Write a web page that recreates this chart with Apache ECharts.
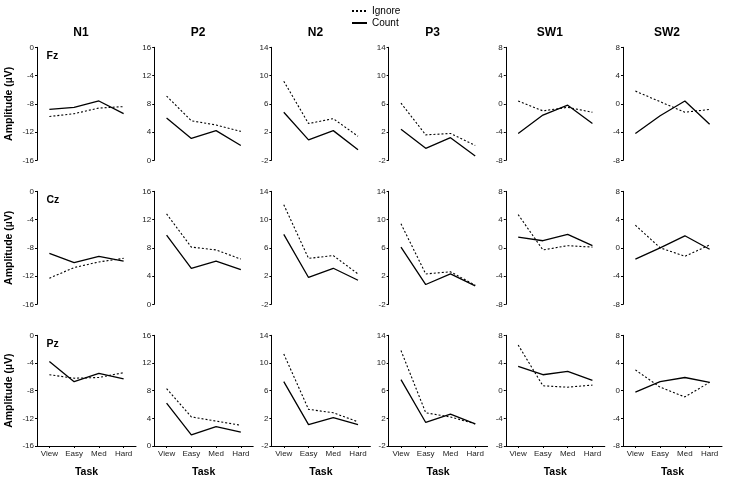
<!DOCTYPE html>
<html>
<head>
<meta charset="utf-8">
<script src="https://cdn.jsdelivr.net/npm/echarts@6.0.0/dist/echarts.min.js"></script>
<style>html,body{margin:0;padding:0;background:#fff}#c{width:733px;height:479px}</style>
</head>
<body>
<div id="c"></div>
<script>
const tasks = ['View', 'Easy', 'Med', 'Hard'];
const components = ['N1', 'P2', 'N2', 'P3', 'SW1', 'SW2'];
const electrodes = ['Fz', 'Cz', 'Pz'];
const yMins = [-16, 0, -2, -2, -8, -8];
const yMaxs = [0, 16, 14, 14, 8, 8];
const yTicks = [
  [-16, -12, -8, -4, 0],
  [0, 4, 8, 12, 16],
  [-2, 2, 6, 10, 14],
  [-2, 2, 6, 10, 14],
  [-8, -4, 0, 4, 8],
  [-8, -4, 0, 4, 8]
];
// rows: components N1, P2, N2, P3, SW1, SW2
const fzIgnore = [
  [-9.8, -9.4, -8.6, -8.4],
  [9.1, 5.6, 5.0, 4.1],
  [9.2, 3.2, 3.9, 1.4],
  [6.1, 1.6, 1.8, 0.1],
  [0.4, -1.0, -0.5, -1.2],
  [1.8, 0.3, -1.2, -0.8]
];
const fzCount = [
  [-8.8, -8.5, -7.6, -9.4],
  [6.0, 3.1, 4.2, 2.1],
  [4.8, 0.9, 2.2, -0.5],
  [2.4, -0.3, 1.2, -1.4],
  [-4.2, -1.6, -0.2, -2.8],
  [-4.2, -1.7, 0.4, -2.9]
];
const czIgnore = [
  [-12.3, -10.8, -10.0, -9.5],
  [12.8, 8.1, 7.7, 6.4],
  [12.1, 4.5, 4.9, 2.3],
  [9.4, 2.3, 2.6, 0.7],
  [4.7, -0.3, 0.3, 0.1],
  [3.2, 0.0, -1.2, 0.4]
];
const czCount = [
  [-8.8, -10.1, -9.2, -9.9],
  [9.8, 5.1, 6.1, 4.9],
  [7.9, 1.8, 3.1, 1.4],
  [6.1, 0.8, 2.3, 0.6],
  [1.5, 1.0, 1.9, 0.3],
  [-1.6, 0.0, 1.7, -0.2]
];
const pzIgnore = [
  [-5.7, -6.2, -6.1, -5.4],
  [8.3, 4.2, 3.6, 3.0],
  [11.3, 3.3, 2.8, 1.5],
  [11.8, 2.8, 2.2, 1.2],
  [6.6, 0.7, 0.5, 0.8],
  [3.0, 0.5, -0.9, 1.2]
];
const pzCount = [
  [-3.8, -6.7, -5.5, -6.3],
  [6.2, 1.6, 2.8, 2.0],
  [7.3, 1.1, 2.1, 1.1],
  [7.6, 1.4, 2.6, 1.2],
  [3.5, 2.3, 2.8, 1.5],
  [-0.2, 1.3, 1.9, 1.2]
];

const ignoreData = [fzIgnore, czIgnore, pzIgnore];
const countData = [fzCount, czCount, pzCount];

const FONT = 'Liberation Sans, Arial, sans-serif';
const colLeft = c => 37 + c * 117.2;
const rowTop = r => 47.3 + r * 144;
const GW = 99, GH = 113;

const grids = [], xAxes = [], yAxes = [], series = [], graphics = [];
for (let r = 0; r < 3; r++) {
  for (let c = 0; c < 6; c++) {
    const i = r * 6 + c;
    const last = r === 2;
    grids.push({ left: colLeft(c), top: rowTop(r), width: GW, height: GH });
    xAxes.push({
      type: 'category', gridIndex: i, data: tasks, boundaryGap: true,
      axisLine: { show: last, onZero: false, lineStyle: { color: '#000', width: 1 } },
      axisTick: { show: last, alignWithLabel: true, length: 2, lineStyle: { color: '#000' } },
      axisLabel: { show: last, fontSize: 8, margin: 4, color: '#222', fontFamily: FONT, interval: 0 },
      name: last ? 'Task' : '', nameLocation: 'middle', nameGap: 21,
      nameTextStyle: { fontSize: 10.5, fontWeight: 'bold', color: '#000', fontFamily: FONT },
      splitLine: { show: false }
    });
    yAxes.push({
      type: 'value', gridIndex: i, min: yMins[c], max: yMaxs[c],
      axisLine: { show: true, onZero: false, lineStyle: { color: '#000', width: 1 } },
      axisTick: { show: true, length: 2, customValues: yTicks[c], lineStyle: { color: '#000' } },
      axisLabel: { fontSize: 8, margin: 3, color: '#222', fontFamily: FONT, customValues: yTicks[c] },
      splitLine: { show: false },
      name: c === 0 ? 'Amplitude (µV)' : '', nameLocation: 'middle', nameGap: 22, nameRotate: 90,
      nameTextStyle: { fontSize: 10.5, fontWeight: 'bold', color: '#000', fontFamily: FONT }
    });
    series.push({
      name: 'Ignore', type: 'line', xAxisIndex: i, yAxisIndex: i,
      data: ignoreData[r][c], symbol: 'none', silent: true,
      lineStyle: { color: '#000', width: 1.1, type: [2, 2] }, itemStyle: { color: '#000' }
    });
    series.push({
      name: 'Count', type: 'line', xAxisIndex: i, yAxisIndex: i,
      data: countData[r][c], symbol: 'none', silent: true,
      lineStyle: { color: '#000', width: 1.3, type: 'solid' }, itemStyle: { color: '#000' }
    });
    if (r === 0) {
      graphics.push({ type: 'text', x: colLeft(c) + 44, y: 33, style: {
        text: components[c], align: 'center', verticalAlign: 'middle',
        font: 'bold 12px ' + FONT, fill: '#000' } });
    }
    if (c === 0) {
      graphics.push({ type: 'text', x: 46.5, y: rowTop(r) + 9, style: {
        text: electrodes[r], align: 'left', verticalAlign: 'middle',
        font: 'bold 10.5px ' + FONT, fill: '#000' } });
    }
  }
}

const chart = echarts.init(document.getElementById('c'), null, { renderer: 'canvas' });
chart.setOption({
  backgroundColor: '#fff',
  animation: false,
  legend: {
    data: ['Ignore', 'Count'], orient: 'vertical', left: 346, top: 1,
    itemWidth: 15, itemHeight: 8, itemGap: 2, selectedMode: false,
    itemStyle: { opacity: 0 },
    textStyle: { fontSize: 10, color: '#000', fontFamily: FONT }
  },
  grid: grids, xAxis: xAxes, yAxis: yAxes, series: series,
  graphic: graphics
});
</script>
</body>
</html>
